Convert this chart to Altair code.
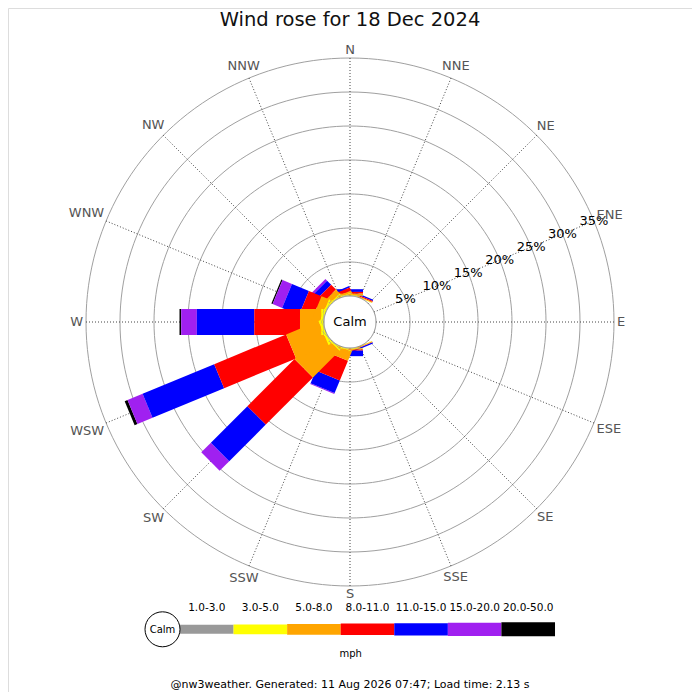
import math
import altair as alt
import pandas as pd

# ---------------- data ----------------
directions = ["N", "NNE", "NE", "ENE", "E", "ESE", "SE", "SSE",
              "S", "SSW", "SW", "WSW", "W", "WNW", "NW", "NNW"]
classes = ["1.0-3.0", "3.0-5.0", "5.0-8.0", "8.0-11.0",
           "11.0-15.0", "15.0-20.0", "20.0-50.0"]
colors = ["#999999", "#ffff00", "#ffa500", "#ff0000",
          "#0000ff", "#a020f0", "#000000"]

# percentage of observations per direction for each speed class (mph)
f_1_3 = [0.05, 0, 0, 0, 0, 0, 0, 0, 0.02, 0.02, 0.05, 0.05, 0.05, 0.05, 0.03, 0.03]
f_3_5 = [0.10, 0.05, 0, 0, 0, 0, 0, 0.05, 0.08, 0.10, 0.20, 0.35, 0.35, 0.25, 0.17, 0.10]
f_5_8 = [0.20, 0.10, 0, 0, 0, 0, 0, 0.10, 0.10, 1.45, 5.55, 5.15, 3.13, 1.20, 0.80, 0.25]
f_8_11 = [0.25, 0.15, 0, 0, 0, 0, 0, 0.05, 0.15, 3.13, 9.80, 11.45, 6.72, 2.00, 1.00, 0.50]
f_11_15 = [0.40, 0.20, 0, 0, 0, 0, 0, 0.20, 0.85, 2.00, 7.60, 11.40, 8.45, 2.70, 0.85, 0.22]
f_15_20 = [0, 0, 0, 0, 0, 0, 0, 0, 0, 0.15, 2.00, 2.40, 2.30, 1.50, 0.35, 0]
f_20_50 = [0, 0, 0, 0, 0, 0, 0, 0, 0, 0, 0, 0.45, 0.25, 0.20, 0, 0]
series = [f_1_3, f_3_5, f_5_8, f_8_11, f_11_15, f_15_20, f_20_50]

ring_pcts = [5, 10, 15, 20, 25, 30, 35]
ring_labels = ["5%", "10%", "15%", "20%", "25%", "30%", "35%"]

title_text = "Wind rose for 18 Dec 2024"
footer_text = "@nw3weather. Generated: 11 Aug 2026 07:47; Load time: 2.13 s"

# ---------------- layout ----------------
W = H = 684
CX, CY = 342, 314          # rose centre inside the view (px)
PX = 6.8                   # px per percent
R0 = 26 / PX               # calm circle radius, in percent units
RMAX = 35
FONT = "DejaVu Sans"

xs = alt.Scale(domain=[-CX / PX, (W - CX) / PX], nice=False, zero=False)
ys = alt.Scale(domain=[-(H - CY) / PX, CY / PX], nice=False, zero=False)

# bars table: outer classes first so inner ones are drawn on top
rows = []
for k in range(len(classes) - 1, -1, -1):
    for i, d in enumerate(directions):
        v = series[k][i]
        if v <= 0:
            continue
        start = sum(series[j][i] for j in range(k))
        rows.append({"dir": d, "deg": i * 22.5, "cls": classes[k],
                     "a": R0 + start, "b": R0 + start + v})
bars = pd.DataFrame(rows)

spokes = pd.DataFrame({"dir": directions,
                       "deg": [i * 22.5 for i in range(16)],
                       "a": R0, "b": R0 + RMAX})

# ring outlines sampled around the circle, and the calm circle
ring_pts = pd.DataFrame([{"pct": p, "k": j, "deg": j * 2.0}
                         for p in [0] + ring_pcts for j in range(181)])
calm_pts = ring_pts[ring_pts["pct"] == 0]
grid_pts = ring_pts[ring_pts["pct"] > 0]
calm = pd.DataFrame({"cx": [0], "cy": [0], "t": ["Calm"]})

ring_lab = pd.DataFrame({"t": ring_labels, "pct": ring_pcts, "deg": 67.5})

cw = {"N": 0.748, "E": 0.632, "S": 0.635, "W": 0.99}
lab_r = []
for i, d in enumerate(directions):
    th = math.radians(i * 22.5)
    w = 13 * sum(cw[c] for c in d)
    lab_r.append((267 + 0.5 * w * abs(math.sin(th)) + 4.75 * abs(math.cos(th))) / PX)
dir_lab = pd.DataFrame({"t": directions, "deg": [i * 22.5 for i in range(16)], "u": lab_r})

legend = pd.DataFrame({"cls": classes})

polar_x = "(datum.pct + %f) * sin(datum.deg * PI / 180)" % R0
polar_y = "(datum.pct + %f) * cos(datum.deg * PI / 180)" % R0

# ---------------- layers ----------------
ring_layer = alt.Chart(grid_pts).transform_calculate(xa=polar_x, ya=polar_y).mark_line(
    color="#a0a0a0", strokeWidth=1
).encode(
    x=alt.X("xa:Q", scale=xs, axis=None),
    y=alt.Y("ya:Q", scale=ys, axis=None),
    detail="pct:N", order="k:Q",
)

spoke_layer = alt.Chart(spokes).transform_calculate(
    xa="datum.a * sin(datum.deg * PI / 180)",
    ya="datum.a * cos(datum.deg * PI / 180)",
    xb="datum.b * sin(datum.deg * PI / 180)",
    yb="datum.b * cos(datum.deg * PI / 180)",
).mark_rule(color="#444444", strokeWidth=1, strokeDash=[1, 2]).encode(
    x=alt.X("xa:Q", scale=xs, axis=None), y=alt.Y("ya:Q", scale=ys, axis=None),
    x2="xb:Q", y2="yb:Q",
)

bar_layer = alt.Chart(bars).transform_calculate(
    xa="datum.a * sin(datum.deg * PI / 180)",
    ya="datum.a * cos(datum.deg * PI / 180)",
    xb="datum.b * sin(datum.deg * PI / 180)",
    yb="datum.b * cos(datum.deg * PI / 180)",
).mark_rule(strokeWidth=26, strokeCap="butt").encode(
    x=alt.X("xa:Q", scale=xs, axis=None), y=alt.Y("ya:Q", scale=ys, axis=None),
    x2="xb:Q", y2="yb:Q",
    color=alt.Color("cls:N", scale=alt.Scale(domain=classes, range=colors), legend=None),
)

calm_fill = alt.Chart(calm_pts).transform_calculate(xa=polar_x, ya=polar_y).mark_area(
    color="white", opacity=1, interpolate="linear"
).encode(
    x=alt.X("xa:Q", scale=xs, axis=None),
    y=alt.Y("ya:Q", scale=ys, axis=None),
    order="k:Q",
)
calm_line = alt.Chart(calm_pts).transform_calculate(xa=polar_x, ya=polar_y).mark_line(
    color="#888888", strokeWidth=1
).encode(
    x=alt.X("xa:Q", scale=xs, axis=None),
    y=alt.Y("ya:Q", scale=ys, axis=None),
    order="k:Q",
)

calm_text = alt.Chart(calm).mark_text(font=FONT, fontSize=13, color="black").encode(
    x=alt.X("cx:Q", scale=xs, axis=None), y=alt.Y("cy:Q", scale=ys, axis=None), text="t:N"
)

ring_text = alt.Chart(ring_lab).transform_calculate(xa=polar_x, ya=polar_y).mark_text(
    font=FONT, fontSize=13, color="black"
).encode(
    x=alt.X("xa:Q", scale=xs, axis=None), y=alt.Y("ya:Q", scale=ys, axis=None), text="t:N"
)

dir_text = alt.Chart(dir_lab).transform_calculate(
    xa="datum.u * sin(datum.deg * PI / 180)",
    ya="datum.u * cos(datum.deg * PI / 180)",
).mark_text(font=FONT, fontSize=13, color="#555555").encode(
    x=alt.X("xa:Q", scale=xs, axis=None), y=alt.Y("ya:Q", scale=ys, axis=None), text="t:N"
)

lx = alt.Scale(domain=classes, range=[172, 547], paddingInner=0, paddingOuter=0)
leg_bars = alt.Chart(legend).mark_tick(thickness=53.6, orient="vertical", opacity=1).encode(
    x=alt.X("cls:N", scale=lx, axis=None, sort=classes),
    y=alt.value(621.3),
    color=alt.Color("cls:N", scale=alt.Scale(domain=classes, range=colors), legend=None),
    size=alt.Size("cls:O", scale=alt.Scale(domain=classes, range=[9, 14, 21, 23, 25, 27, 29]),
                  legend=None),
)
leg_text = alt.Chart(legend).mark_text(font=FONT, fontSize=10.5, color="black").encode(
    x=alt.X("cls:N", scale=lx, axis=None, sort=classes),
    y=alt.value(599.5),
    text="cls:N",
)
leg_circle = alt.Chart(calm).mark_arc(
    theta=0, theta2=2 * math.pi, fill="white", stroke="black", strokeWidth=1, radius=17.5
).encode(x=alt.value(154.5), y=alt.value(621.3))
leg_circle_text = alt.Chart(calm).mark_text(font=FONT, fontSize=10, color="black").encode(
    x=alt.value(154.5), y=alt.value(621.8), text="t:N"
)
mph_text = alt.Chart(calm).mark_text(font=FONT, fontSize=10, color="black").encode(
    x=alt.value(342.7), y=alt.value(646), text=alt.value("mph")
)
title_layer = alt.Chart(calm).mark_text(font=FONT, fontSize=19.5, color="#111111",
                                        baseline="alphabetic").encode(
    x=alt.value(342), y=alt.value(17.5), text=alt.value(title_text)
)
footer_layer = alt.Chart(calm).mark_text(font=FONT, fontSize=11, color="black").encode(
    x=alt.value(342), y=alt.value(676.5), text=alt.value(footer_text)
)

chart = alt.layer(
    ring_layer, spoke_layer, bar_layer, calm_fill, calm_line, calm_text, ring_text, dir_text,
    leg_bars, leg_circle, leg_circle_text, leg_text, mph_text, title_layer, footer_layer,
).resolve_scale(
    x="independent", y="independent", color="independent", size="independent"
).properties(
    width=W, height=H, autosize=alt.AutoSizeParams(type="none"), padding=0
).configure_view(stroke="black", strokeWidth=2).configure(background="white")

chart.save("out.html", embed_options={"renderer": "svg", "actions": False})
